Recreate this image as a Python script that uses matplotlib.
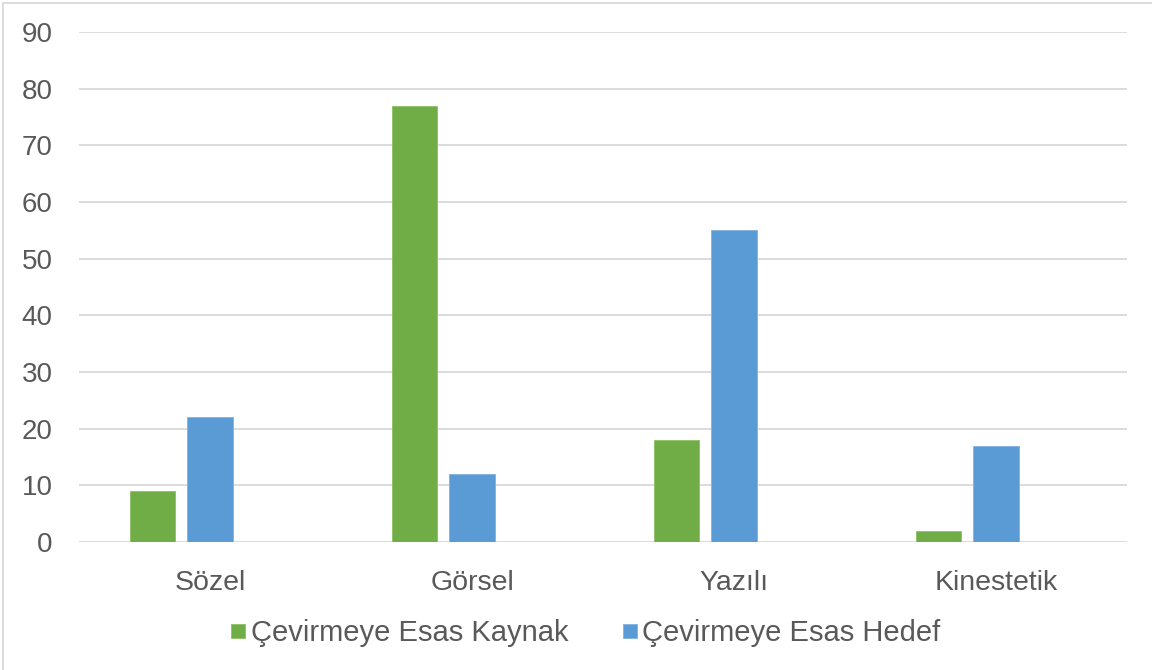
import matplotlib.pyplot as plt
from matplotlib.lines import Line2D
import numpy as np

plt.rcParams['font.family'] = ['Liberation Sans', 'DejaVu Sans']

categories = ['Sözel', 'Görsel', 'Yazılı', 'Kinestetik']
kaynak = [9, 77, 18, 2]
hedef = [22, 12, 55, 17]
series_names = ['Çevirmeye Esas Kaynak', 'Çevirmeye Esas Hedef']
y_ticks = [0, 10, 20, 30, 40, 50, 60, 70, 80, 90]

green = '#70AD47'
blue = '#5B9BD5'
text_gray = '#595959'
grid_gray = '#D9D9D9'

fig = plt.figure(figsize=(11.52, 6.70), dpi=100)
ax = fig.add_axes([79 / 1152, 1 - 542 / 670, (1127 - 79) / 1152, (542 - 32) / 670])

x = np.arange(len(categories))
w = 0.172
ax.bar(x - 0.22, kaynak, w, color=green, edgecolor='#8CC063', linewidth=0.6,
       label=series_names[0], zorder=3)
ax.bar(x, hedef, w, color=blue, edgecolor='#7FB2E0', linewidth=0.6,
       label=series_names[1], zorder=3)

ax.set_xlim(-0.5, len(categories) - 0.5)
ax.set_ylim(0, 90)
ax.set_yticks(y_ticks)
ax.set_xticks(x)
ax.set_xticklabels(categories)
ax.yaxis.grid(True, color=grid_gray, linewidth=1.3, zorder=0)
ax.set_axisbelow(True)
for s in ax.spines.values():
    s.set_visible(False)
ax.tick_params(axis='both', length=0, labelcolor=text_gray)
ax.tick_params(axis='y', labelsize=20, pad=19)
ax.tick_params(axis='x', labelsize=20.5, pad=20)

# small square markers next to the series names
leg = fig.legend(loc='center', bbox_to_anchor=(586 / 1152, 1 - 633 / 670), ncol=2,
                 frameon=False, fontsize=21, handlelength=0.48, handleheight=0.36,
                 handletextpad=0.2, columnspacing=1.85)
for t in leg.get_texts():
    t.set_color(text_gray)

# chart border, only the left and top edges fall inside the image
fig.lines.append(Line2D([3 / 1152, 3 / 1152, 1], [0, 1 - 3 / 670, 1 - 3 / 670],
                        transform=fig.transFigure, color=grid_gray, linewidth=1.3))

fig.savefig('out.png', dpi=100)
